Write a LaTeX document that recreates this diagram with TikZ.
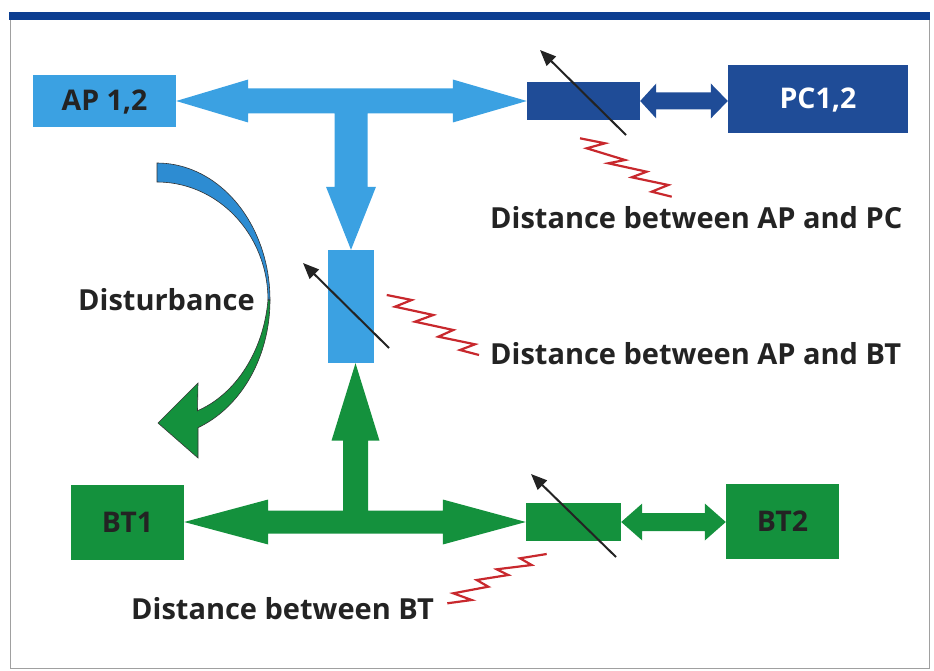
\documentclass[tikz,border=0pt]{standalone}
\usepackage{fontspec}
\setmainfont{Open Sans}
\usetikzlibrary{calc,arrows.meta}
\definecolor{lblue}{RGB}{59,161,226}
\definecolor{dblue}{RGB}{31,76,151}
\definecolor{grn}{RGB}{20,145,61}
\definecolor{disblue}{RGB}{45,140,210}
\definecolor{barblue}{RGB}{12,62,145}
\definecolor{zred}{RGB}{200,40,45}
\definecolor{txt}{RGB}{35,35,35}
\definecolor{framegray}{RGB}{160,160,160}
\begin{document}
\begin{tikzpicture}[x=1pt,y=-1pt,
  box/.style={inner sep=0pt, draw=none, font=\bfseries\fontsize{28.5}{30}\selectfont, text height=20pt, text depth=0pt},
  lbl/.style={anchor=base west, inner sep=0pt, text=txt, font=\bfseries\fontsize{29}{31}\selectfont},
  ptr/.style={draw=txt, line width=2pt, -{Triangle[length=16pt,width=13pt]}},
  zig/.style={draw=zred, line width=2.2pt, line join=miter},
  disshape/.style={draw=black!80, line width=0.6pt}]
\useasboundingbox (0,0) rectangle (934,671);
% frame
\draw[framegray, line width=0.9pt] (10,20) -- (10,668) -- (929,668) -- (929,20);
\fill[barblue] (9,12) rectangle (930,20);

% boxes
\node[box, fill=lblue, minimum width=143pt, minimum height=52pt, text=txt] (ap) at (104.5,101) {AP 1,2};
\node[box, fill=dblue, minimum width=113pt, minimum height=38pt] (tb) at (583.5,101) {};
\node[box, fill=dblue, minimum width=180pt, minimum height=68pt, text=white] (pc) at (818,99) {PC1,2};
\node[box, fill=lblue, minimum width=46pt, minimum height=113pt] (ab) at (351,306.5) {};
\node[box, fill=grn, minimum width=113pt, minimum height=75pt, text=txt] (bt1) at (127.5,522) {BT1};
\node[box, fill=grn, minimum width=95pt, minimum height=38pt] (gb) at (573.5,522) {};
\node[box, fill=grn, minimum width=113pt, minimum height=75pt, text=txt] (bt2) at (782.5,521.5) {BT2};

\coordinate (jt) at (ab.north |- ap.east);
\coordinate (pcw) at (pc.west |- tb.east);
\coordinate (gtip) at ($(ab.south)+(4.5,0)$);
\coordinate (jg) at (gtip |- bt1.east);
\coordinate (bt2w) at (bt2.west |- gb.east);

% big blue T arrow
\fill[lblue] (ap.east) -- ++(72,-21.5) -- ++(0,9) -- ($(tb.west)+(-74,-12.5)$) -- ++(0,-9)
  -- (tb.west) -- ++(-74,21.5) -- ++(0,-9) -- ($(jt)+(16.5,12.5)$)
  -- ($(ab.north)+(16.5,-63)$) -- ++(8.5,0) -- (ab.north) -- ++(-25,-63) -- ++(8.5,0)
  -- ($(jt)+(-16.5,12.5)$) -- ($(ap.east)+(72,12.5)$) -- ++(0,9) -- cycle;
% small dark blue arrow
\fill[dblue] (tb.east) -- ++(16,-17.5) -- ++(0,9) -- ($(pcw)+(-17,-8.5)$) -- ++(0,-9)
  -- (pcw) -- ++(-17,17.5) -- ++(0,-9) -- ($(tb.east)+(16,8.5)$) -- ++(0,9) -- cycle;
% big green T arrow
\fill[grn] (bt1.east) -- ++(84,-22.5) -- ++(0,11) -- ($(jg)+(-12.5,-11.5)$)
  -- ($(gtip)+(-12.5,77.5)$) -- ++(-11.5,0) -- (gtip) -- ++(24,77.5) -- ++(-11.5,0)
  -- ($(jg)+(12.5,-11.5)$) -- ($(gb.west)+(-83,-11.5)$) -- ++(0,-11)
  -- (gb.west) -- ++(-83,22.5) -- ++(0,-11) -- ($(bt1.east)+(84,11.5)$) -- ++(0,11) -- cycle;
% small green arrow
\fill[grn] (gb.east) -- ++(21,-18.5) -- ++(0,9.5) -- ($(bt2w)+(-21,-9)$) -- ++(0,-9.5)
  -- (bt2w) -- ++(-21,18.5) -- ++(0,-9.5) -- ($(gb.east)+(21,9)$) -- ++(0,9.5) -- cycle;

% pointer arrows
\draw[ptr] ($(tb.center)+(42.5,34)$) -- ($(tb.center)+(-43.5,-51)$);
\draw[ptr] ($(ab.center)+(38,41.5)$) -- ($(ab.center)+(-48,-43.5)$);
\draw[ptr] ($(gb.center)+(42.5,35)$) -- ($(gb.center)+(-42.5,-48)$);

% zigzags
\draw[zig] (580,138.3) -- (605,143.3) -- (586.7,148.3) -- (625,160) -- (608.3,163.3) -- (646.7,171.7)
  -- (631.7,177.3) -- (668.3,185) -- (651.7,191.7) -- (671.7,196.7);
\draw[zig] (386.7,295) -- (411.7,300) -- (395,306.7) -- (433.3,315) -- (415,321.7) -- (453.3,330)
  -- (438.3,336.7) -- (475,344.3) -- (460,350) -- (479,355);
\draw[zig] (447.3,603.3) -- (471.7,600) -- (453.3,593.3) -- (488.3,586.7) -- (476.7,580) -- (508.3,575)
  -- (496.7,569.3) -- (531.7,565) -- (520,558.3) -- (546.7,554);

% disturbance arrow
\filldraw[disshape, fill=disblue] (157,163)
  -- plot[domain=90:0, samples=40, variable=\t] ({157+113*cos(\t)},{300-137*sin(\t)})
  -- plot[domain=0:90, samples=40, variable=\t] ({157+111*cos(\t)},{300-118*sin(\t)}) -- cycle;
\filldraw[disshape, fill=grn] (270,300)
  -- plot[domain=0:-68.7, samples=40, variable=\t] ({157+113*cos(\t)},{300-137*sin(\t)})
  -- (198,458) -- (158,423) -- (198,383) -- (197.5,410.7)
  -- plot[domain=-65.5:0, samples=40, variable=\t] ({157+(111-14*abs(\t)/68.7)*cos(\t)},{300-(135-14*abs(\t)/68.7)*sin(\t)}) -- cycle;

% labels
\node[lbl] (dpc) at (490,228.5) {Distance between AP and PC};
\node[lbl] (dab) at (490,364) {Distance between AP and BT};
\node[lbl] (dis) at (78,310) {Disturbance};
\node[lbl] (dbt) at (131,619) {Distance between BT};
\end{tikzpicture}
\end{document}
